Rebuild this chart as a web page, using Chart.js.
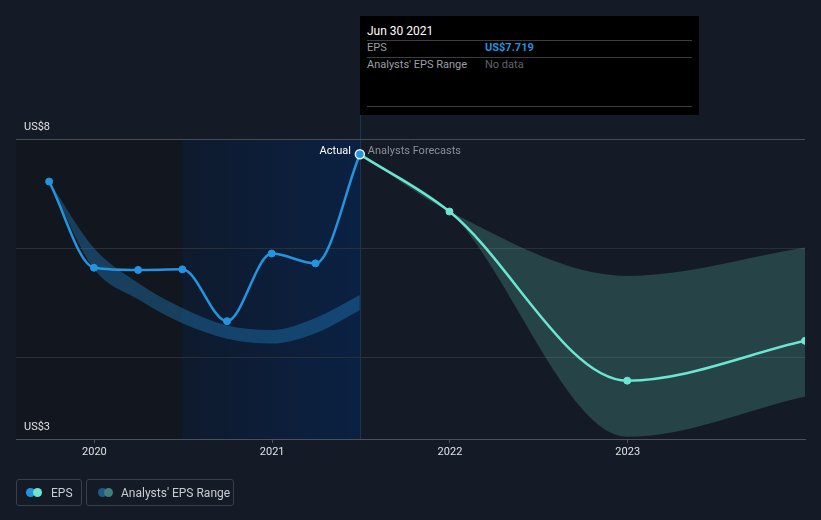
<!DOCTYPE html>
<html>
<head>
<meta charset="utf-8">
<script src="https://cdn.jsdelivr.net/npm/chart.js@4.4.1/dist/chart.umd.min.js"></script>
<style>
html,body{margin:0;padding:0;background:#151b26;}
body{width:821px;height:520px;position:relative;overflow:hidden;font-family:Roboto,"Noto Sans",sans-serif;}
#c{position:absolute;left:0;top:0;}
#tip{position:absolute;left:360px;top:16px;width:339px;height:99px;background:#000;}
#tip .t{position:absolute;left:7px;font-size:12px;line-height:14px;white-space:nowrap;}
#tip .hr{position:absolute;left:7px;width:325px;height:1px;background:#3a3d42;}
.leg{position:absolute;top:479px;height:27px;border:1px solid #3a404b;border-radius:3px;box-sizing:border-box;}
.leg span{position:absolute;top:6px;font-size:12px;line-height:14px;color:#c9ccd1;white-space:nowrap;}
.leg i{position:absolute;top:8px;width:9px;height:9px;border-radius:50%;}
</style>
</head>
<body>
<canvas id="c" width="821" height="520"></canvas>

<div id="tip">
  <div class="t" style="top:8px;color:#ffffff;">Jun 30 2021</div>
  <div class="hr" style="top:24px;"></div>
  <div class="t" style="top:25px;color:#9b9fa6;font-size:11px;">EPS</div>
  <div class="t" style="top:25px;left:125px;color:#2394df;font-weight:bold;font-size:11px;">US$7.719</div>
  <div class="hr" style="top:41px;"></div>
  <div class="t" style="top:42px;color:#9b9fa6;font-size:11px;">Analysts' EPS Range</div>
  <div class="t" style="top:42px;left:125px;color:#5f646b;font-size:11px;">No data</div>
  <div class="hr" style="top:90px;"></div>
</div>

<div class="leg" style="left:16px;width:66px;">
  <i style="left:9px;background:#2394df;"></i><i style="left:16px;background:#6ce5d1;"></i>
  <span style="left:34px;">EPS</span>
</div>
<div class="leg" style="left:86px;width:148px;">
  <i style="left:11px;background:#1d5a86;"></i><i style="left:17px;background:#3e7f7a;"></i>
  <span style="left:34px;">Analysts' EPS Range</span>
</div>

<script>
// ---- data ----
const actualDates   = ['2019-09-30','2019-12-31','2020-03-31','2020-06-30','2020-09-30','2020-12-31','2021-03-31','2021-06-30'];
const actualEps     = [7.22, 5.64, 5.60, 5.61, 4.66, 5.90, 5.72, 7.719];
const pastRangeHigh = [7.22, 6.00, 5.36, 4.90, 4.58, 4.50, 4.72, 5.14];
const pastRangeLow  = [7.22, 5.62, 5.06, 4.62, 4.34, 4.25, 4.44, 4.86];
const forecastDates = ['2021-06-30','2021-12-31','2022-12-31','2023-12-31'];
const forecastEps   = [7.719, 6.67, 3.57, 4.30];
const forecastHigh  = [7.719, 6.67, 5.49, 6.01];
const forecastLow   = [7.719, 6.67, 2.54, 3.28];
const xRange        = ['2019-07-24','2023-12-31'];
const yearTicks     = [2020, 2021, 2022, 2023];
const yTickValues   = [2.5, 4, 6, 8];
const yTickLabels   = {'8':'US$8', '2.5':'US$3'};
const shadeDates    = ['2020-06-30','2021-06-30'];

// ---- helpers ----
function toYear(s){
  const [y,m,d] = s.split('-').map(Number);
  const t = Date.UTC(y,m-1,d), a = Date.UTC(y,0,1), b = Date.UTC(y+1,0,1);
  return y + (t-a)/(b-a);
}
const pts = (dates, vals) => dates.map((d,i)=>({x:toYear(d), y:vals[i]}));

const BLUE = '#2394df', TEAL = '#6ce5d1';

const bgPlugin = {
  id:'bg',
  beforeDraw(chart){
    const {ctx, chartArea:ca, scales:{x}} = chart;
    const x0 = x.getPixelForValue(toYear(shadeDates[0]));
    const x1 = x.getPixelForValue(toYear(shadeDates[1]));
    ctx.save();
    ctx.fillStyle = '#12161e';
    ctx.fillRect(ca.left, ca.top, x0-ca.left, ca.bottom-ca.top);
    const g = ctx.createLinearGradient(x0,0,x1,0);
    g.addColorStop(0,'#0e1a2d');
    g.addColorStop(1,'#0b2143');
    ctx.fillStyle = g;
    ctx.fillRect(x0, ca.top, x1-x0, ca.bottom-ca.top);
    ctx.strokeStyle = 'rgba(35,148,223,0.22)';
    ctx.lineWidth = 1;
    ctx.beginPath();
    ctx.moveTo(Math.round(x1)+0.5, 115);
    ctx.lineTo(Math.round(x1)+0.5, ca.bottom);
    ctx.stroke();
    ctx.restore();
  },
  afterDraw(chart){
    const {ctx, chartArea:ca, scales:{x}} = chart;
    const xp = x.getPixelForValue(toYear(shadeDates[1]));
    ctx.save();
    ctx.font = '11px Roboto';
    ctx.textBaseline = 'middle';
    ctx.textAlign = 'right';
    ctx.fillStyle = '#ffffff';
    ctx.fillText('Actual', xp-9, ca.top+12);
    ctx.textAlign = 'left';
    ctx.fillStyle = '#8a8f97';
    ctx.fillText('Analysts Forecasts', xp+8, ca.top+12);
    ctx.restore();
  }
};

const nA = actualEps.length;
new Chart(document.getElementById('c'), {
  type:'line',
  data:{
    datasets:[
      {data:pts(actualDates,pastRangeHigh), borderWidth:0, pointRadius:0, fill:'+1',
       backgroundColor:'rgba(35,148,223,0.33)', cubicInterpolationMode:'monotone', order:6},
      {data:pts(actualDates,pastRangeLow), borderWidth:0, pointRadius:0, fill:false,
       cubicInterpolationMode:'monotone', order:7},
      {data:pts(forecastDates,forecastHigh), borderWidth:0, pointRadius:0, fill:'+1',
       backgroundColor:'rgba(108,229,209,0.2)', cubicInterpolationMode:'monotone', order:4},
      {data:pts(forecastDates,forecastLow), borderWidth:0, pointRadius:0, fill:false,
       cubicInterpolationMode:'monotone', order:5},
      {data:pts(forecastDates,forecastEps), borderColor:TEAL, borderWidth:2.5,
       pointRadius:forecastEps.map((v,i)=>i===0?0:3.5), pointBackgroundColor:TEAL, pointBorderColor:TEAL,
       pointBorderWidth:1, fill:false, cubicInterpolationMode:'monotone', order:2},
      {data:pts(actualDates,actualEps), borderColor:BLUE, borderWidth:2.5,
       pointRadius:actualEps.map((v,i)=>i===nA-1?4.5:3.5), pointBackgroundColor:BLUE,
       pointBorderColor:actualEps.map((v,i)=>i===nA-1?'#e6eef6':BLUE),
       pointBorderWidth:actualEps.map((v,i)=>i===nA-1?1.5:1),
       fill:false, cubicInterpolationMode:'monotone', order:1}
    ]
  },
  options:{
    responsive:false, animation:false, devicePixelRatio:1,
    layout:{padding:{left:16,right:16,top:139,bottom:51}},
    plugins:{legend:{display:false}, tooltip:{enabled:false}},
    events:[],
    scales:{
      x:{type:'linear', min:toYear(xRange[0]), max:toYear(xRange[1]),
        afterBuildTicks:s=>{s.ticks = yearTicks.map(v=>({value:v}));},
        afterFit:s=>{s.height = 30;},
        ticks:{color:'#dfe1e4', font:{family:'Roboto', size:11}, padding:3, autoSkip:false, maxRotation:0,
               callback:v=>String(v)},
        grid:{display:true, drawOnChartArea:false, drawTicks:true, tickLength:4, color:'#4b515b'},
        border:{display:true, color:'#4b515b', width:1}
      },
      y:{type:'linear', min:yTickValues[0], max:yTickValues[yTickValues.length-1],
        afterBuildTicks:s=>{s.ticks = yTickValues.map(v=>({value:v}));},
        afterFit:s=>{s.width = 0;},
        ticks:{mirror:true, padding:8, labelOffset:-12, color:'#dfe1e4', autoSkip:false,
               font:{family:'Roboto', size:11},
               callback:v=>yTickLabels[String(v)] || ''},
        grid:{drawTicks:false, color:c=>c.tick && c.tick.value===8 ? '#474d57' : '#2a303a'},
        border:{display:false}
      }
    }
  },
  plugins:[bgPlugin]
});
</script>
</body>
</html>
